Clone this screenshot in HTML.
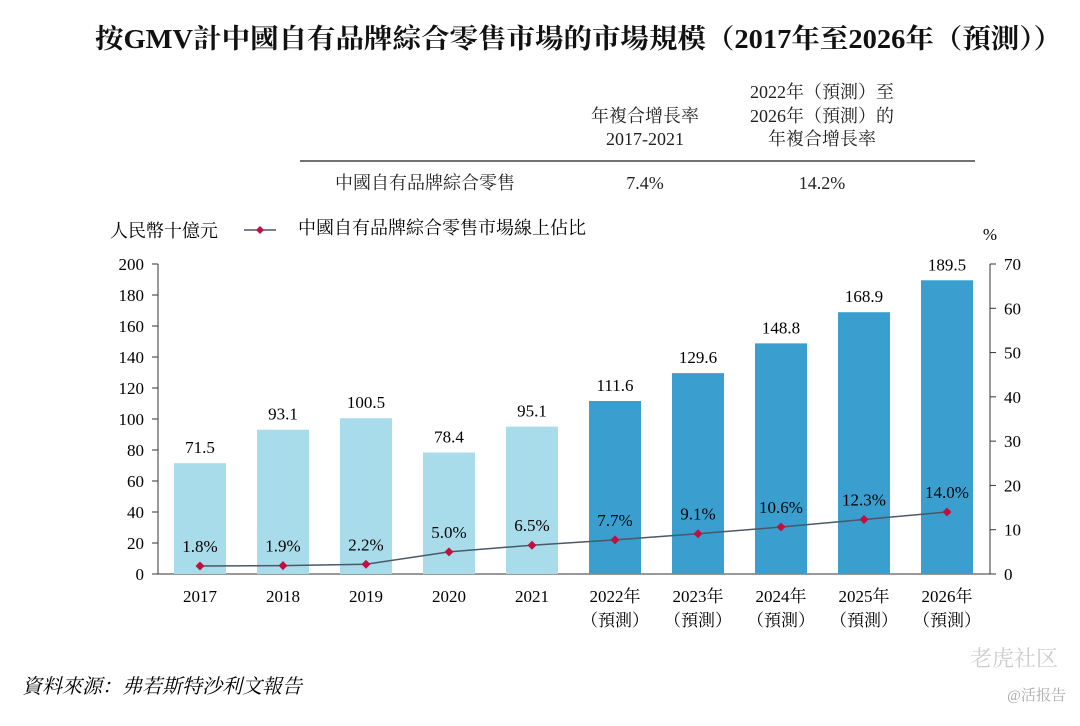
<!DOCTYPE html>
<html><head><meta charset="utf-8">
<style>
body{margin:0;background:#fff;width:1080px;height:721px;overflow:hidden;font-family:"Liberation Serif","Noto Serif CJK SC",serif;color:#222}
svg text{font-family:"Liberation Serif","Noto Serif CJK SC",serif}
</style></head><body>
<svg id="chart" width="1080" height="721">
<text x="95" y="48" font-size="27" font-weight="bold" fill="#111" textLength="967" lengthAdjust="spacingAndGlyphs">按GMV計中國自有品牌綜合零售市場的市場規模（2017年至2026年（預測））</text>
<g font-size="18" fill="#222" text-anchor="middle">
<text x="645" y="122">年複合增長率</text>
<text x="645" y="145">2017-2021</text>
<text x="822" y="98">2022年（預測）至</text>
<text x="822" y="122">2026年（預測）的</text>
<text x="822" y="145">年複合增長率</text>
<line x1="300" y1="161" x2="975" y2="161" stroke="#444" stroke-width="1.5"/>
<text x="425" y="189">中國自有品牌綜合零售</text>
<text x="645" y="189">7.4%</text>
<text x="822" y="189">14.2%</text>
</g>
<text x="110" y="237" font-size="18">人民幣十億元</text>
<g>
<line x1="244" y1="230" x2="276" y2="230" stroke="#4a5868" stroke-width="1.5"/>
<path d="M260 226 L264 230 L260 234 L256 230Z" fill="#c01040"/>
<text x="298" y="234" font-size="18">中國自有品牌綜合零售市場線上佔比</text>
</g>
<text x="990" y="240" font-size="17" text-anchor="middle">%</text>
<g id="axes"></g><g id="bars"></g><g id="line"></g>
<text x="22" y="693" font-size="20" font-style="italic">資料來源：弗若斯特沙利文報告</text>
<text x="1058" y="666" font-size="22" fill="#ccc" text-anchor="end">老虎社区</text>
<text x="1066" y="700" font-size="15" fill="#aaa" text-anchor="end">@活报告</text>
</svg>
<script>
const categories=["2017","2018","2019","2020","2021","2022年","2023年","2024年","2025年","2026年"];
const forecast=[false,false,false,false,false,true,true,true,true,true];
const gmvValues=[71.5,93.1,100.5,78.4,95.1,111.6,129.6,148.8,168.9,189.5];
const onlineShare=[1.8,1.9,2.2,5.0,6.5,7.7,9.1,10.6,12.3,14.0];
const leftTicks=[0,20,40,60,80,100,120,140,160,180,200];
const rightTicks=[0,10,20,30,40,50,60,70];
const NS="http://www.w3.org/2000/svg";
const y0=574,y1=264,xL=158,xR=990;
const yL=v=>y0-(v/200)*(y0-y1);
const yR=v=>y0-(v/70)*(y0-y1);
const xC=i=>200+i*83;
function mk(p,t,a){const e=document.createElementNS(NS,t);for(const k in a)e.setAttribute(k,a[k]);p.appendChild(e);return e;}
const ax=document.getElementById('axes');
let e=mk(ax,'line',{x1:xL,y1:y1,x2:xL,y2:y0,stroke:'#333'});

e=mk(ax,'line',{x1:xR,y1:y1,x2:xR,y2:y0,stroke:'#333'});

e=mk(ax,'line',{x1:xL,y1:y0,x2:xR,y2:y0,stroke:'#333'});

leftTicks.forEach(v=>{mk(ax,'line',{x1:xL-6,x2:xL,y1:yL(v),y2:yL(v),stroke:'#333'});
const t=mk(ax,'text',{x:xL-14,y:yL(v)+6,'text-anchor':'end','font-size':17});t.textContent=v;
});
rightTicks.forEach(v=>{mk(ax,'line',{x1:xR,x2:xR+6,y1:yR(v),y2:yR(v),stroke:'#333'});
const t=mk(ax,'text',{x:xR+14,y:yR(v)+6,'font-size':17});t.textContent=v;
});
const bg=document.getElementById('bars');
categories.forEach((c,i)=>{
 const b=mk(bg,'rect',{x:xC(i)-26,y:yL(gmvValues[i]),width:52,height:y0-yL(gmvValues[i]),fill:forecast[i]?'#3a9fcf':'#a9dcea'});
 
 const t=mk(bg,'text',{x:xC(i),y:yL(gmvValues[i])-10,'text-anchor':'middle','font-size':17});t.textContent=gmvValues[i].toFixed(1);
 
 const l=mk(bg,'text',{x:xC(i),y:602,'text-anchor':'middle','font-size':17});l.textContent=c;
 
 if(forecast[i]){const f=mk(bg,'text',{x:xC(i),y:626,'text-anchor':'middle','font-size':17});f.textContent='（預測）';
 }
});
const lg=document.getElementById('line');
const pl=mk(lg,'polyline',{points:onlineShare.map((v,i)=>xC(i)+','+yR(v)).join(' '),fill:'none',stroke:'#4a5868','stroke-width':1.5});

onlineShare.forEach((v,i)=>{const x=xC(i),y=yR(v);
 const p=mk(lg,'path',{d:`M${x} ${y-4.5}L${x+4.5} ${y}L${x} ${y+4.5}L${x-4.5} ${y}Z`,fill:'#c01040'});
 
 const t=mk(lg,'text',{x:x,y:y-14,'text-anchor':'middle','font-size':17});t.textContent=v.toFixed(1)+'%';
 });
</script>
</body></html>
